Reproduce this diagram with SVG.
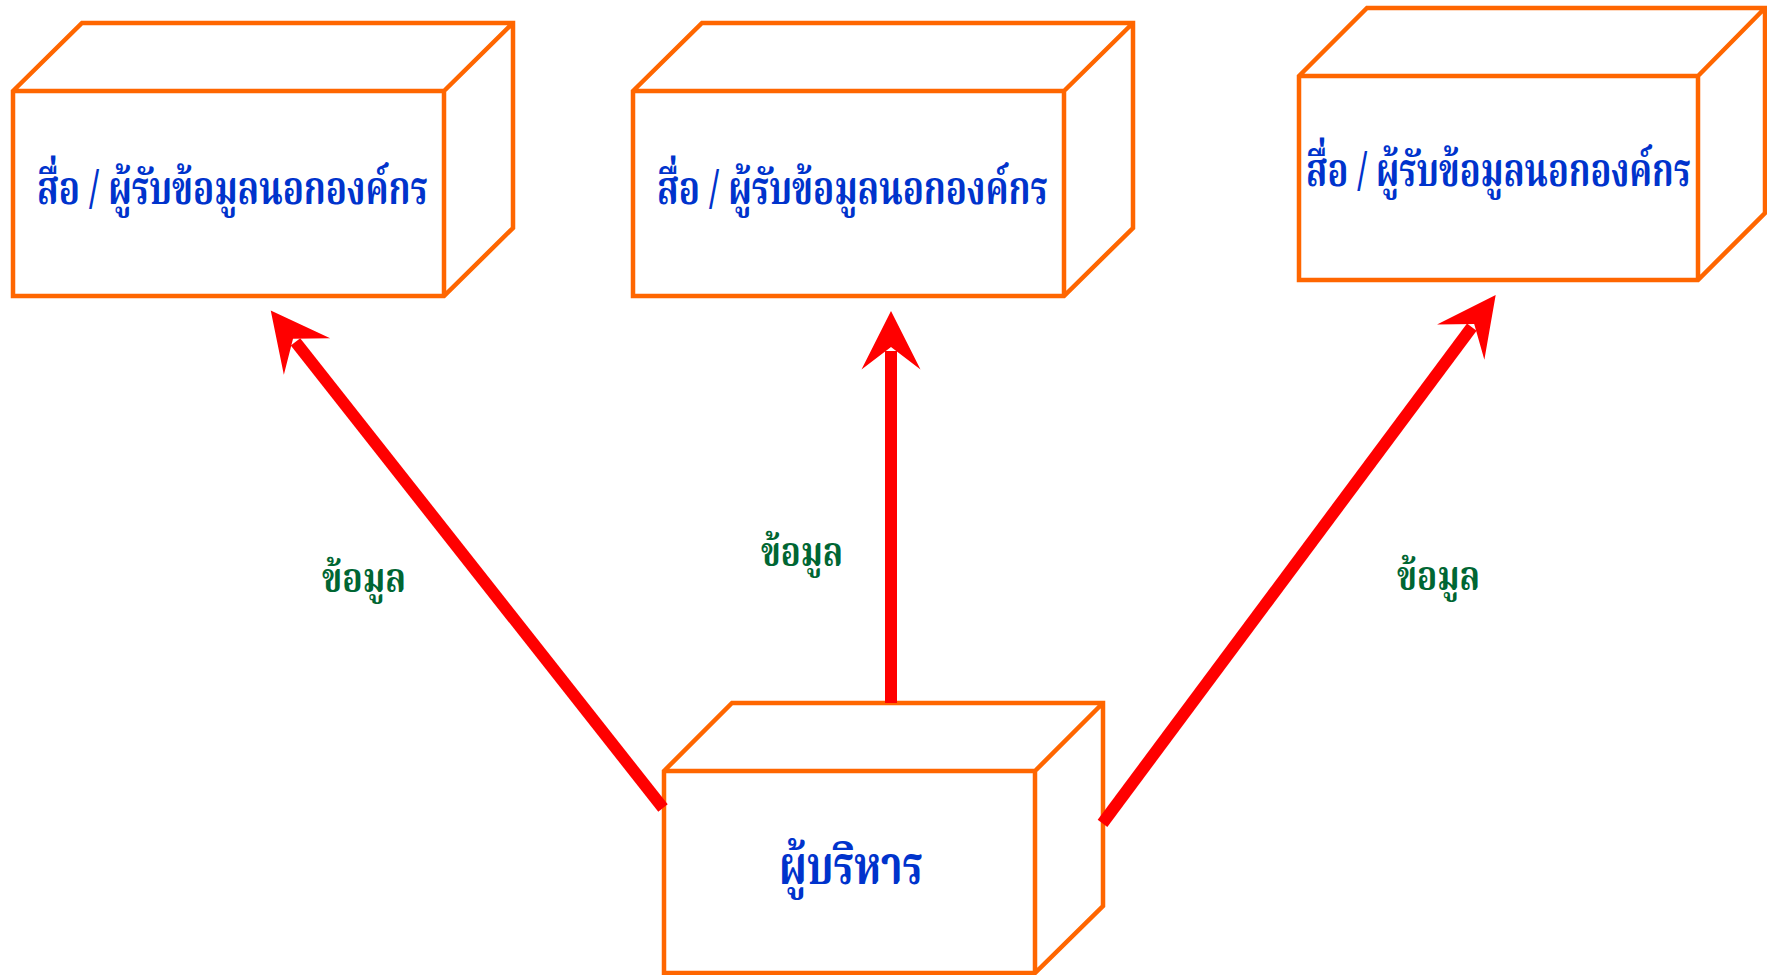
<svg xmlns="http://www.w3.org/2000/svg" width="1767" height="975" viewBox="0 0 1767 975">
  <style>
    .box { fill: none; stroke: #FF6600; stroke-width: 4.5; stroke-linejoin: miter; }
    .title { font-family: "Noto Serif Thai", "Noto Sans Thai", "Noto Sans", "DejaVu Sans", "Liberation Sans", sans-serif; font-weight: bold; fill: #0033CC; }
    .flow { stroke: #FF0000; stroke-width: 12; fill: none; stroke-linecap: butt; }
    .label { font-family: "Noto Serif Thai", "Noto Sans Thai", "Noto Sans", "DejaVu Sans", "Liberation Sans", sans-serif; font-weight: bold; fill: #006633; font-size: 40px; }
  </style>
  <defs>
    <marker id="head" markerUnits="userSpaceOnUse" orient="auto" refX="0" refY="0" markerWidth="120" markerHeight="120" overflow="visible">
      <path d="M40,0 L-18.6,-29.5 L4,0 L-18.6,29.5 Z" fill="#FF0000"/>
    </marker>
  </defs>
  <rect width="1767" height="975" fill="#FFFFFF"/>

  <g id="media-left">
    <path class="box" d="M13,91 L82,23 L513,23 L513,228 L444,296 L13,296 Z M13,91 L444,91 L444,296 M444,91 L513,23"/>
    <text class="title" x="37" y="204" font-size="46" textLength="391" lengthAdjust="spacingAndGlyphs">สื่อ / ผู้รับข้อมูลนอกองค์กร</text>
  </g>

  <g id="media-center">
    <path class="box" d="M633,91 L702,23 L1133,23 L1133,228 L1064,296 L633,296 Z M633,91 L1064,91 L1064,296 M1064,91 L1133,23"/>
    <text class="title" x="657" y="204" font-size="46" textLength="391" lengthAdjust="spacingAndGlyphs">สื่อ / ผู้รับข้อมูลนอกองค์กร</text>
  </g>

  <g id="media-right">
    <path class="box" d="M1299,76 L1367,8 L1765,8 L1765,213 L1698,280 L1299,280 Z M1299,76 L1698,76 L1698,280 M1698,76 L1765,8"/>
    <text class="title" x="1306" y="186" font-size="46" textLength="385" lengthAdjust="spacingAndGlyphs">สื่อ / ผู้รับข้อมูลนอกองค์กร</text>
  </g>

  <g id="executive">
    <path class="box" d="M664,771 L732,703 L1103,703 L1103,906 L1035,973 L664,973 Z M664,771 L1035,771 L1035,973 M1035,771 L1103,703"/>
    <text class="title" x="779" y="884" font-size="54" textLength="144" lengthAdjust="spacingAndGlyphs">ผู้บริหาร</text>
  </g>

  <g id="connectors">
    <line class="flow" x1="663" y1="808" x2="295.5" y2="341.9" marker-end="url(#head)"/>
    <line class="flow" x1="891" y1="703" x2="891" y2="351" marker-end="url(#head)"/>
    <line class="flow" x1="1102.5" y1="823.3" x2="1471.8" y2="327.1" marker-end="url(#head)"/>
    <text class="label" x="322" y="592" textLength="84" lengthAdjust="spacingAndGlyphs">ข้อมูล</text>
    <text class="label" x="761" y="566" textLength="82" lengthAdjust="spacingAndGlyphs">ข้อมูล</text>
    <text class="label" x="1397" y="590" textLength="83" lengthAdjust="spacingAndGlyphs">ข้อมูล</text>
  </g>
</svg>
